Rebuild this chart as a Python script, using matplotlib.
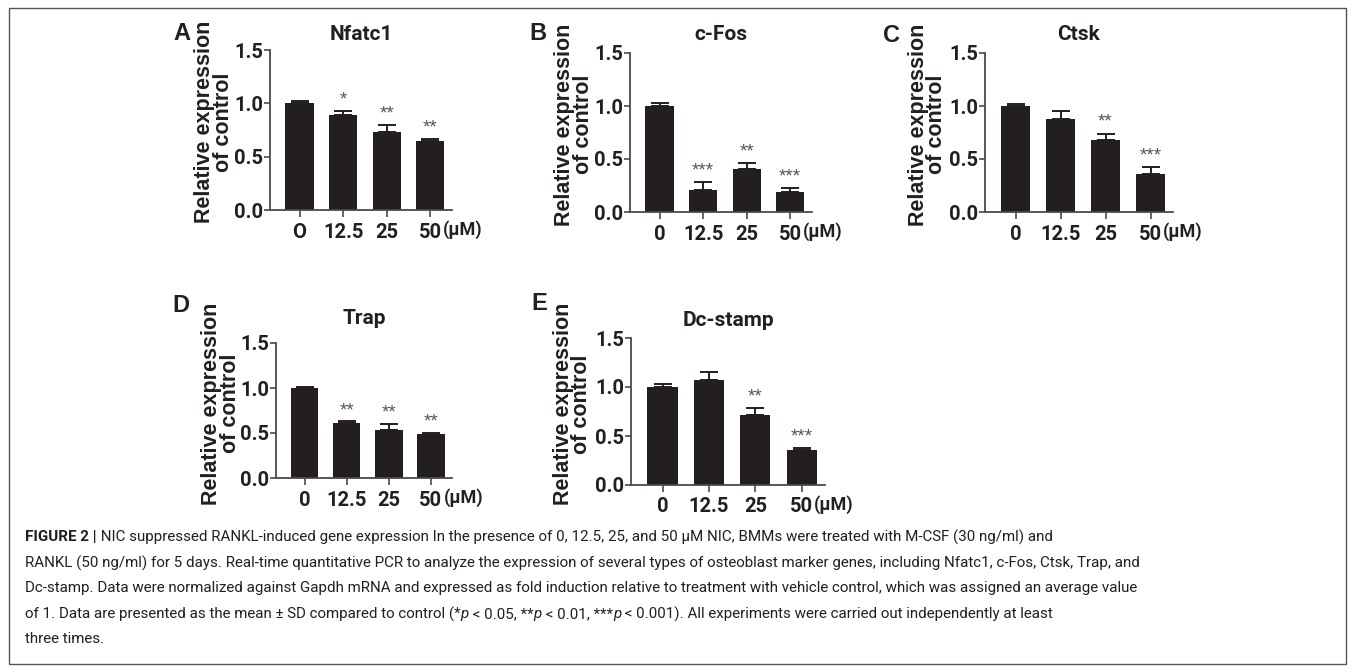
import matplotlib
matplotlib.use("Agg")
import matplotlib.pyplot as plt
from matplotlib.patches import Rectangle

W, H = 1355, 672

# data (mean, SD, significance marks)
doses_a = ["O", "12.5", "25", "50"]
doses = ["0", "12.5", "25", "50"]

nfatc1 = [1.00, 0.89, 0.73, 0.65]
nfatc1_sd = [0.02, 0.04, 0.07, 0.015]
nfatc1_sig = ["", "*", "**", "**"]

cfos = [1.00, 0.21, 0.41, 0.19]
cfos_sd = [0.03, 0.07, 0.05, 0.04]
cfos_sig = ["", "***", "**", "***"]

ctsk = [1.00, 0.88, 0.68, 0.36]
ctsk_sd = [0.02, 0.07, 0.06, 0.06]
ctsk_sig = ["", "", "**", "***"]

trap = [1.00, 0.61, 0.53, 0.49]
trap_sd = [0.01, 0.02, 0.07, 0.015]
trap_sig = ["", "**", "**", "**"]

dcstamp = [1.00, 1.07, 0.71, 0.36]
dcstamp_sd = [0.03, 0.08, 0.08, 0.02]
dcstamp_sig = ["", "", "**", "***"]

yticks = [0.0, 0.5, 1.0, 1.5]
ylabel = "Relative expression\nof control"

NARROW = ["Liberation Sans Narrow", "Roboto", "Liberation Sans", "DejaVu Sans"]
SANS = ["Liberation Sans", "DejaVu Sans"]
INK = "#231f20"
AXC = "#4a4a4a"

fig = plt.figure(figsize=(W / 100, H / 100), dpi=100)
renderer = fig.canvas.get_renderer()


def fx(px):
    return px / W


def fy(py):
    return 1 - py / H


def px_axes(x0, ytop, x1, ybot):
    return fig.add_axes([fx(x0), fy(ybot), (x1 - x0) / W, (ybot - ytop) / H])


panels = []


def draw_panel(box, letter, letter_xy, title, title_y, labels, vals, sd, sig):
    ax = px_axes(*box)
    x = list(range(len(vals)))
    ax.bar(x, vals, width=0.65, color=INK, zorder=2)
    ax.errorbar(x, vals, yerr=[[0] * len(sd), sd], fmt="none", ecolor=INK,
                elinewidth=1.4, capsize=6.5, capthick=1.4, zorder=1)
    for i in x:
        if sig[i]:
            ax.text(i, vals[i] + sd[i] + 0.025, sig[i], ha="center", va="bottom",
                    fontsize=13.5, color="#555555", family=SANS)
    ax.set_xlim(-0.68, 3.5)
    ax.set_ylim(0, 1.5)
    ax.set_yticks(yticks)
    ax.set_yticklabels([f"{t:.1f}" for t in yticks])
    ax.set_xticks(x)
    ax.set_xticklabels(labels)
    for s in ["top", "right"]:
        ax.spines[s].set_visible(False)
    for s in ["left", "bottom"]:
        ax.spines[s].set_color(AXC)
        ax.spines[s].set_linewidth(1.3)
    ax.tick_params(axis="y", length=4, width=1.2, color=AXC, pad=1)
    ax.tick_params(axis="x", length=5, width=1.2, color=AXC, pad=4)
    for t in ax.get_xticklabels() + ax.get_yticklabels():
        t.set_family(NARROW)
        t.set_fontweight("bold")
        t.set_fontsize(14.5)
        t.set_color(INK)
    ax.set_ylabel(ylabel, family=SANS, fontweight="bold", fontsize=15.5,
                  linespacing=0.85, color=INK, labelpad=4)
    ax.yaxis.set_label_coords(-0.2, 0.55)
    cx = (box[0] + box[2]) / 2
    fig.text(fx(cx), fy(title_y), title, ha="center", va="center", family=NARROW,
             fontweight="bold", fontsize=15, color=INK)
    fig.text(fx(letter_xy[0]), fy(letter_xy[1]), letter, ha="center", va="center",
             family=SANS, fontweight="bold", fontsize=17, color=INK)
    panels.append(ax)
    return ax


draw_panel((270, 50, 452, 210), "A", (182, 34), "Nfatc1", 34, doses_a,
           nfatc1, nfatc1_sd, nfatc1_sig)
draw_panel((630, 53, 812, 212), "B", (538, 34), "c-Fos", 34, doses,
           cfos, cfos_sd, cfos_sig)
draw_panel((985, 53, 1173, 212), "C", (891, 35), "Ctsk", 35, doses,
           ctsk, ctsk_sd, ctsk_sig)
draw_panel((276, 343, 452, 478), "D", (181, 305), "Trap", 318, doses,
           trap, trap_sd, trap_sig)
draw_panel((631, 338, 825, 485), "E", (539, 304), "Dc-stamp", 320, doses,
           dcstamp, dcstamp_sd, dcstamp_sig)

# unit label just right of the last dose label, a little raised
fig.canvas.draw()
for ax in panels:
    bb = ax.get_xticklabels()[-1].get_window_extent(renderer)
    fig.text((bb.x1 + 1) / W, (bb.y0 + bb.height * 0.65) / H, "(\u03bcM)",
             ha="left", va="center", family=NARROW, fontweight="bold",
             fontsize=13, color=INK)

# frame round the whole figure
fig.add_artist(Rectangle((fx(9), fy(664)), (1346 - 9) / W, (664 - 8) / H,
                         transform=fig.transFigure, fill=False,
                         edgecolor="#555555", linewidth=1.0))

# caption, drawn as runs so that bold and italic parts follow one another
caption = [
    [("FIGURE 2 |", "bold"),
     (" NIC suppressed RANKL-induced gene expression In the presence of 0, 12.5, 25, and 50 \u03bcM NIC, "
      "BMMs were treated with M-CSF (30 ng/ml) and", "reg")],
    [("RANKL (50 ng/ml) for 5 days. Real-time quantitative PCR to analyze the expression of several types "
      "of osteoblast marker genes, including Nfatc1, c-Fos, Ctsk, Trap, and", "reg")],
    [("Dc-stamp. Data were normalized against Gapdh mRNA and expressed as fold induction relative to "
      "treatment with vehicle control, which was assigned an average value", "reg")],
    [("of 1. Data are presented as the mean \u00b1 SD compared to control (*", "reg"), ("p", "ital"),
     (" < 0.05, **", "reg"), ("p", "ital"), (" < 0.01, ***", "reg"), ("p", "ital"),
     (" < 0.001). All experiments were carried out independently at least", "reg")],
    [("three times.", "reg")],
]
line_y = [537, 563, 588, 614, 639]

# size the caption so that the second line spans the same width as in the figure
probe = fig.text(0, 0, caption[1][0][0], family=NARROW, fontsize=12)
probe_w = probe.get_window_extent(renderer).width
probe.remove()
cap_size = 12 * (1140 - 25) / probe_w

styles = {
    "reg": dict(family=NARROW, fontsize=cap_size, color=INK),
    "bold": dict(family=NARROW, fontsize=cap_size, color=INK, fontweight="bold"),
    "ital": dict(family=NARROW, fontsize=cap_size, color=INK, style="italic"),
}

for runs, y in zip(caption, line_y):
    x = fx(25)
    for txt, st in runs:
        t = fig.text(x, fy(y), txt, ha="left", va="center", **styles[st])
        bb = t.get_window_extent(renderer)
        x += bb.width / W

fig.savefig("out.png", dpi=100)
